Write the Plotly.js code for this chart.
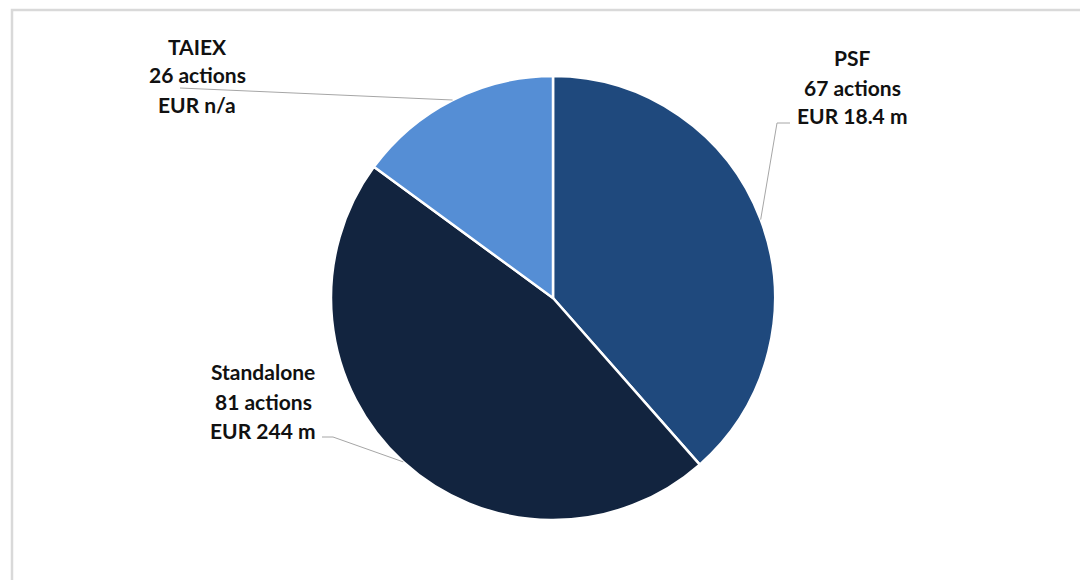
<!DOCTYPE html>
<html>
<head>
<meta charset="utf-8">
<script src="https://cdn.plot.ly/plotly-3.0.1.min.js"></script>
<style>html,body{margin:0;padding:0;background:#fff;}#chart{width:1080px;height:580px;}</style>
</head>
<body>
<div id="chart"></div>
<script>
// ---- data ----
var categories = ["PSF", "Standalone", "TAIEX"];
var actions = [67, 81, 26];
var amounts = ["EUR 18.4 m", "EUR 244 m", "EUR n/a"];
var colors = ["#1F497D", "#12243F", "#558ED5"];

// ---- layout helpers (pixels -> paper) ----
var W = 1080, H = 580;
function px(x) { return x / W; }
function py(y) { return 1 - y / H; }

var cx = 553, cy = 298, R = 222;

// label block positions (center x, first line y) and leader elbow points
var labelPos = [
  {x: 852, y: 58, lx: 790, ly: 123, ex: 777, ey: 123},
  {x: 263, y: 372, lx: 322, ly: 437, ex: 333, ey: 437},
  {x: 197, y: 46, lx: 180, ly: 88, ex: null, ey: null}
];
var lineGap = 29;

var trace = {
  type: "pie",
  labels: categories,
  values: actions,
  sort: false,
  direction: "clockwise",
  rotation: 0,
  textinfo: "none",
  hoverinfo: "none",
  marker: {colors: colors, line: {color: "#ffffff", width: 2.5}},
  domain: {x: [px(cx - R), px(cx + R)], y: [py(cy + R), py(cy - R)]}
};

var annotations = [];
var shapes = [];
var total = actions.reduce(function (a, b) { return a + b; }, 0);
var cum = 0;
for (var i = 0; i < categories.length; i++) {
  var lines = [categories[i], actions[i] + " actions", amounts[i]];
  for (var k = 0; k < 3; k++) {
    annotations.push({
      xref: "paper", yref: "paper",
      x: px(labelPos[i].x), y: py(labelPos[i].y + k * lineGap),
      text: "<b>" + lines[k] + "</b>", showarrow: false,
      xanchor: "center", yanchor: "middle",
      font: {family: "Lato, 'Open Sans', sans-serif", size: 21, color: "#111111"}
    });
  }
  // leader line to slice mid-angle on the edge
  var mid = (cum + actions[i] / 2) / total * 2 * Math.PI;
  cum += actions[i];
  var tx = cx + R * Math.sin(mid), ty = cy - R * Math.cos(mid);
  var p = "M " + px(labelPos[i].lx) + " " + py(labelPos[i].ly);
  if (labelPos[i].ex !== null) p += " L " + px(labelPos[i].ex) + " " + py(labelPos[i].ey);
  p += " L " + px(tx) + " " + py(ty);
  shapes.push({type: "path", xref: "paper", yref: "paper", path: p,
    line: {color: "#a6a6a6", width: 1}});
}

// outer frame
shapes.push({type: "rect", xref: "paper", yref: "paper",
  x0: px(12), x1: 1.2, y0: -0.2, y1: py(10),
  line: {color: "#d9d9d9", width: 2.5}, fillcolor: "rgba(0,0,0,0)"});

var layout = {
  width: W, height: H,
  margin: {l: 0, r: 0, t: 0, b: 0},
  paper_bgcolor: "#ffffff",
  showlegend: false,
  annotations: annotations,
  shapes: shapes
};

Plotly.newPlot("chart", [trace], layout, {displayModeBar: false, staticPlot: true});
</script>
</body>
</html>
